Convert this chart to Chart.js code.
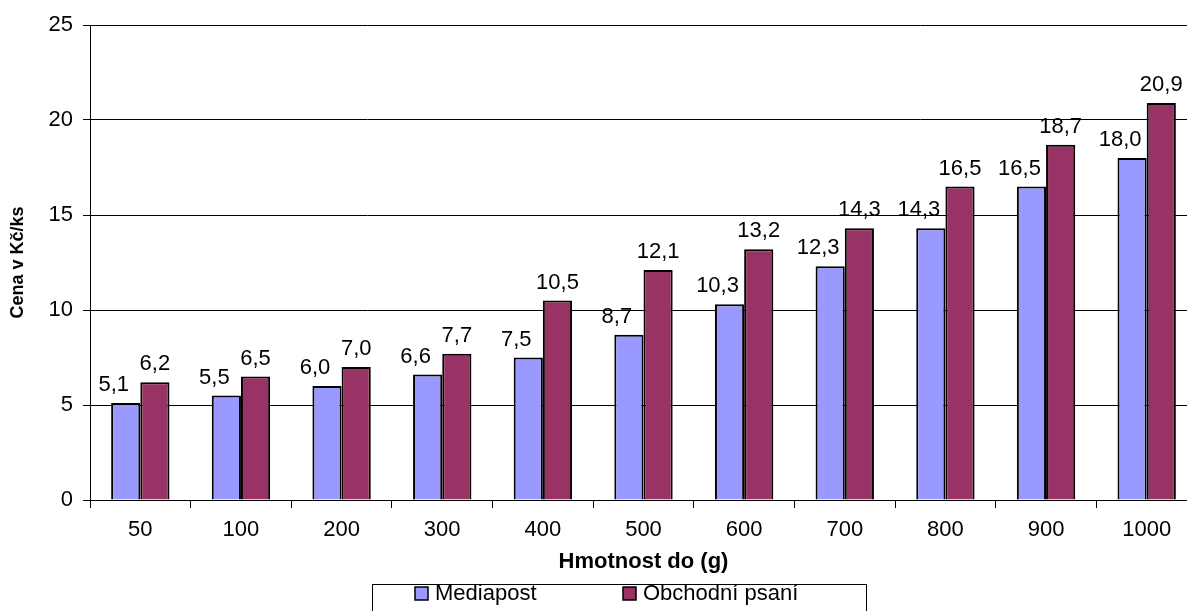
<!DOCTYPE html>
<html>
<head>
<meta charset="utf-8">
<script src="https://cdn.jsdelivr.net/npm/chart.js@4.4.0/dist/chart.umd.min.js"></script>
<style>
  html, body { margin: 0; padding: 0; background: #fff; overflow: hidden; }
  #wrap { width: 1210px; height: 611px; }
</style>
</head>
<body>
<div id="wrap"><canvas id="chartCena" width="1210" height="611"></canvas></div>
<script>
// Hmotnost do (g)
const hmotnosti = ['50', '100', '200', '300', '400', '500', '600', '700', '800', '900', '1000'];
const mediapost = [5.1, 5.5, 6.0, 6.6, 7.5, 8.7, 10.3, 12.3, 14.3, 16.5, 18.0];
const obchodniPsani = [6.2, 6.5, 7.0, 7.7, 10.5, 12.1, 13.2, 14.3, 16.5, 18.7, 20.9];
const yTicks = [0, 5, 10, 15, 20, 25];

const font = 'Arial, "Liberation Sans", sans-serif';

// popisky hodnot nad sloupci (modré trochu doleva jako v Excelu)
const posunX = [-12, 0];
const popiskyPlugin = {
    id: 'popisky',
    afterDatasetsDraw(chart) {
        const ctx = chart.ctx;
        ctx.save();
        ctx.font = '22px ' + font;
        ctx.fillStyle = '#000';
        ctx.textAlign = 'center';
        ctx.textBaseline = 'alphabetic';
        chart.data.datasets.forEach((ds, i) => {
            chart.getDatasetMeta(i).data.forEach((bar, j) => {
                const txt = ds.data[j].toFixed(1).replace('.', ',');
                ctx.fillText(txt, bar.x + posunX[i], bar.y - 12);
            });
        });
        ctx.restore();
    }
};

// legenda s rámečkem
const legendaPlugin = {
    id: 'legenda',
    afterDraw(chart) {
        const ctx = chart.ctx;
        ctx.save();
        ctx.strokeStyle = '#000';
        ctx.lineWidth = 1;
        ctx.strokeRect(372.5, 584.5, 494, 40);
        const pozice = [415, 623];
        ctx.font = '22px ' + font;
        ctx.textBaseline = 'middle';
        ctx.textAlign = 'left';
        chart.data.datasets.forEach((ds, i) => {
            const x = pozice[i];
            ctx.fillStyle = ds.backgroundColor;
            ctx.fillRect(x, 587, 13, 13);
            ctx.strokeStyle = '#000';
            ctx.lineWidth = 1.5;
            ctx.strokeRect(x, 587, 13, 13);
            ctx.fillStyle = '#000';
            ctx.fillText(ds.label, x + 20, 594);
        });
        ctx.restore();
    }
};

const ctx = document.getElementById('chartCena').getContext('2d');
new Chart(ctx, {
    type: 'bar',
    data: {
        labels: hmotnosti,
        datasets: [
            {
                label: 'Mediapost',
                data: mediapost,
                backgroundColor: '#9999FF',
                borderColor: '#000',
                borderWidth: 2,
                barPercentage: 1.0,
                categoryPercentage: 0.58
            },
            {
                label: 'Obchodní psaní',
                data: obchodniPsani,
                backgroundColor: '#993366',
                borderColor: '#000',
                borderWidth: 2,
                barPercentage: 1.0,
                categoryPercentage: 0.58
            }
        ]
    },
    options: {
        responsive: false,
        animation: false,
        layout: {
            padding: { top: 25, right: 13, bottom: 0, left: 0 }
        },
        plugins: {
            legend: { display: false },
            tooltip: { enabled: false }
        },
        scales: {
            x: {
                afterFit: (scale) => {
                    scale.height = 111;
                },
                grid: {
                    offset: true,
                    drawOnChartArea: false,
                    color: '#000',
                    tickLength: 8
                },
                border: { color: '#000', width: 1 },
                ticks: {
                    color: '#000',
                    padding: 9,
                    font: { size: 22, family: font }
                },
                title: {
                    display: true,
                    text: 'Hmotnost do (g)',
                    color: '#000',
                    font: { size: 22, weight: 'bold', family: font },
                    padding: { top: 0, bottom: 36 }
                }
            },
            y: {
                min: 0,
                max: 25,
                afterBuildTicks: (scale) => {
                    scale.ticks = yTicks.map(v => ({ value: v }));
                },
                afterFit: (scale) => {
                    scale.width = 90;
                },
                grid: {
                    color: '#000',
                    lineWidth: 1,
                    tickLength: 7
                },
                border: { color: '#000', width: 1 },
                ticks: {
                    color: '#000',
                    padding: 10,
                    font: { size: 22, family: font }
                },
                title: {
                    display: true,
                    text: 'Cena v Kč/ks',
                    color: '#000',
                    font: { size: 18, weight: 'bold', family: font },
                    padding: { top: 7, bottom: 0 }
                }
            }
        }
    },
    plugins: [popiskyPlugin, legendaPlugin]
});
</script>
</body>
</html>
